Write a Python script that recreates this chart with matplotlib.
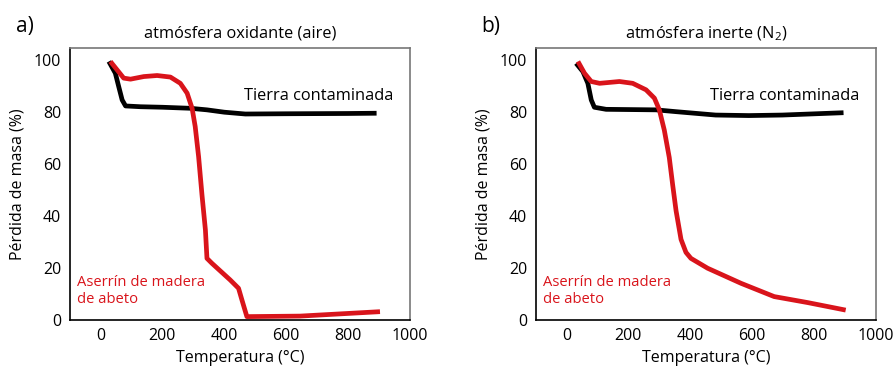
import matplotlib
matplotlib.use("Agg")
import matplotlib.pyplot as plt

plt.rcParams['font.family'] = ['Open Sans', 'DejaVu Sans']

# Panel a: oxidizing atmosphere (air)
a_soil_T = [27, 48, 59, 70, 81, 129, 200, 290, 344, 400, 468, 600, 800, 892]
a_soil_m = [99.4, 94.9, 89.7, 84.6, 82.3, 82.0, 81.8, 81.4, 80.8, 79.9, 79.2, 79.3, 79.4, 79.5]
a_wood_T = [32, 75, 97, 140, 183, 226, 258, 280, 296, 306, 317, 328, 339, 344, 360, 419, 446, 457, 473, 645, 903]
a_wood_m = [99.4, 93.0, 92.6, 93.6, 94.0, 93.4, 91.0, 87.2, 81.4, 74.4, 62.8, 48.0, 34.6, 23.7, 21.8, 15.4, 12.2, 7.7, 1.3, 1.5, 3.2]

# Panel b: inert atmosphere (N2)
b_soil_T = [31, 53, 69, 80, 90, 128, 289, 354, 482, 589, 697, 895]
b_soil_m = [98.7, 95.5, 91.0, 84.6, 81.8, 81.0, 80.8, 80.1, 78.8, 78.6, 78.8, 79.7]
b_wood_T = [37, 58, 80, 107, 171, 214, 257, 284, 300, 316, 332, 343, 354, 370, 386, 402, 456, 564, 671, 779, 902]
b_wood_m = [99.4, 94.9, 91.7, 91.0, 91.7, 91.0, 88.5, 85.3, 80.8, 73.0, 62.5, 52.0, 42.0, 31.0, 26.0, 23.7, 19.9, 14.1, 9.0, 6.7, 3.8]

x_ticks = [0, 200, 400, 600, 800, 1000]
y_ticks = [0, 20, 40, 60, 80, 100]

RED = '#d9141b'

fig = plt.figure(figsize=(8.96, 3.72), dpi=100)

panels = [
    (0.0776, 'a)', 'atmósfera oxidante (aire)', a_soil_T, a_soil_m, a_wood_T, a_wood_m),
    (0.5977, 'b)', 'atmósfera inerte (N$_\\mathregular{2}$)', b_soil_T, b_soil_m, b_wood_T, b_wood_m),
]

for left, tag, title, sT, sm, wT, wm in panels:
    ax = fig.add_axes([left, 0.1398, 0.380, 0.732])
    ax.plot(sT, sm, color='black', lw=3.4, solid_joinstyle='round', solid_capstyle='butt')
    ax.plot(wT, wm, color=RED, lw=3.4, solid_joinstyle='round', solid_capstyle='butt')
    ax.set_xlim(-100, 1000)
    ax.set_ylim(0, 104.7)
    ax.set_xticks(x_ticks)
    ax.set_yticks(y_ticks)
    ax.tick_params(length=0, labelsize=11.5, pad=6)
    for s in ['left', 'bottom']:
        ax.spines[s].set_color('black')
        ax.spines[s].set_linewidth(1.2)
    for s in ['top', 'right']:
        ax.spines[s].set_color('#777777')
        ax.spines[s].set_linewidth(1.2)
    ax.set_xlabel('Temperatura (°C)', fontsize=11.5, labelpad=4)
    ax.set_ylabel('Pérdida de masa (%)', fontsize=11.5, labelpad=6)
    ax.set_title(title, fontsize=11.8, pad=7)
    ax.text(-0.158, 1.076, tag, transform=ax.transAxes, fontsize=15, va='center', ha='left')
    ax.text(945, 86.2, 'Tierra contaminada', fontsize=11.8, ha='right', va='center')
    ax.text(-75, 11.0, 'Aserrín de madera\nde abeto', fontsize=10.6, color=RED,
            ha='left', va='center', linespacing=1.2)

fig.savefig('out.png', dpi=100)
